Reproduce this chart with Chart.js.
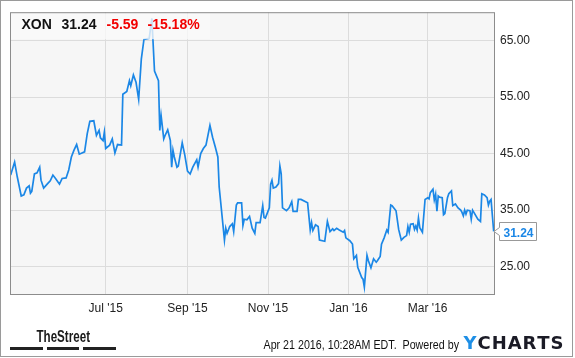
<!DOCTYPE html>
<html><head><meta charset="utf-8">
<script src="https://cdn.jsdelivr.net/npm/chart.js@4/dist/chart.umd.min.js"></script>
<style>html,body{margin:0;padding:0;background:#fff;}canvas{display:block;}</style>
</head><body>
<canvas id="c" width="575" height="358"></canvas>
<script>
// ---- data (days since 21 Apr 2015) ----
const ticker = 'XON';
const lastPriceText = '31.24';
const changeText = '-5.59';
const changePctText = '-15.18%';
const footerStamp = 'Apr 21 2016, 10:28AM EDT.  Powered by';

const days = [-1,2,4,7,9,11,13,14,15,17,19,21,22,24,27,29,31,33,36,38,41,43,45,47,49,51,55,57,59,62,64,66,67,69,70,71,74,76,78,80,83,84,87,89,90,92,94,96,98,100,104,106,108,111,112,113,115,116,118,120,121,122,123,125,126,129,131,133,135,137,140,141,143,145,147,150,152,154,156,157,161,162,163,165,167,168,170,171,174,175,176,178,180,182,184,185,188,190,191,192,195,196,197,198,200,202,203,204,205,208,210,212,213,216,217,219,224,226,227,228,230,232,233,237,239,241,243,244,246,248,251,252,253,256,258,259,261,262,265,266,267,269,270,272,274,276,277,279,280,282,284,285,287,288,291,293,295,297,299,300,301,302,304,305,306,307,308,309,311,313,315,316,317,319,320,321,322,323,324,326,327,328,330,331,333,334,336,338,340,341,342,343,344,345,347,348,349,350,353,355,356,358,360,361,362,363,365];
const prices = [41.2,43.5,40.9,37.5,37.7,38.9,39.3,38.0,38.3,41.4,41.6,42.6,40.3,38.9,39.7,40.2,41.2,40.6,39.6,40.6,40.7,42.1,44.4,45.6,46.6,44.9,45.3,48.5,50.7,50.8,48.2,49.1,47.8,47.3,48.8,45.9,46.5,47.6,45.1,46.6,46.5,55.5,56.0,57.9,57.0,58.9,57.6,54.6,61.7,65.2,65.4,68.9,59.6,57.9,49.1,51.7,47.6,48.2,49.2,47.3,42.6,45.6,44.4,42.6,42.8,46.9,44.7,41.9,41.4,42.6,43.9,42.6,45.0,45.9,46.5,50.0,47.9,46.2,44.4,39.1,29.7,31.8,30.9,32.1,32.6,31.2,35.9,36.3,36.3,32.3,33.4,33.3,33.9,31.8,30.9,32.8,32.8,35.8,33.7,33.6,35.4,39.6,40.3,38.9,39.1,39.7,42.8,41.4,35.4,34.9,35.4,36.5,34.8,34.8,36.9,36.9,36.3,31.5,32.8,31.4,32.4,32.1,29.7,29.5,33.0,31.2,31.7,31.4,31.8,31.5,31.1,31.4,30.1,29.6,29.0,26.4,27.0,24.9,23.1,22.8,21.4,27.0,26.1,24.8,26.4,25.8,26.1,26.8,29.0,30.1,31.5,31.1,35.9,35.8,34.9,31.6,29.7,30.2,30.5,32.1,31.1,32.5,32.6,31.6,32.2,31.5,33.6,31.9,31.1,36.9,37.2,37.0,38.1,38.7,36.8,37.8,34.8,37.5,37.3,37.2,34.2,34.4,37.2,37.9,38.4,35.8,36.1,35.4,35.0,34.6,34.0,35.0,34.3,35.0,34.9,33.4,35.0,34.6,33.4,33.0,37.9,37.7,37.2,35.9,36.6,36.9,31.24];

const xTickDays = [71, 133, 194, 255, 315];
const xTickLabels = ["Jul '15", "Sep '15", "Nov '15", "Jan '16", "Mar '16"];
const yTickValues = [25, 35, 45, 55, 65];

// ---- drawing ----
const FONT = '"Liberation Sans", Arial, Helvetica, sans-serif';
const LINE_BLUE = '#1b87e6';
const points = days.map((d, i) => ({ x: d, y: prices[i] }));

function fitText(ctx, text, x, y, width) {
  const w = ctx.measureText(text).width;
  ctx.save();
  ctx.translate(x, y);
  ctx.scale(width / w, 1);
  ctx.fillText(text, 0, 0);
  ctx.restore();
}

const decor = {
  id: 'decor',
  beforeDraw(chart) {
    const { ctx, chartArea: a } = chart;
    ctx.save();
    ctx.fillStyle = '#fff';
    ctx.fillRect(0, 0, chart.width, chart.height);
    ctx.fillStyle = '#f6f6f6';
    ctx.fillRect(a.left, a.top, a.right - a.left, a.bottom - a.top);
    ctx.restore();
  },
  afterDatasetsDraw(chart) {
    const { ctx, chartArea: a } = chart;
    ctx.save();
    // header box
    ctx.fillStyle = 'rgba(250,250,250,0.78)';
    ctx.fillRect(a.left + 1, a.top + 1, 199, 26);
    ctx.textBaseline = 'alphabetic';
    ctx.textAlign = 'left';
    ctx.font = 'bold 14px ' + FONT;
    ctx.fillStyle = '#111';
    ctx.fillText(ticker, 21.5, 28.5);
    ctx.fillText(lastPriceText, 61.5, 28.5);
    ctx.fillStyle = '#f20000';
    ctx.fillText(changeText, 106.5, 28.5);
    ctx.fillText(changePctText, 147.5, 28.5);

    // plot frame
    ctx.strokeStyle = '#8c8c8c';
    ctx.lineWidth = 1;
    ctx.strokeRect(a.left + 0.5, a.top + 0.5, a.right - a.left - 1, a.bottom - a.top - 1);

    // last price tag
    const yv = Math.round(chart.scales.y.getPixelForValue(prices[prices.length - 1]));
    const x0 = a.right + 4.5, w = 37;
    const top = yv - 8.5, bot = yv + 9.5;
    ctx.beginPath();
    ctx.moveTo(a.right - 1, yv + 0.5);
    ctx.lineTo(x0, yv - 3.5);
    ctx.lineTo(x0, top);
    ctx.lineTo(x0 + w, top);
    ctx.lineTo(x0 + w, bot);
    ctx.lineTo(x0, bot);
    ctx.lineTo(x0, yv + 4.5);
    ctx.closePath();
    ctx.fillStyle = '#fff';
    ctx.fill();
    ctx.strokeStyle = '#999';
    ctx.stroke();
    ctx.font = 'bold 12px ' + FONT;
    ctx.fillStyle = LINE_BLUE;
    ctx.textAlign = 'center';
    ctx.fillText(lastPriceText, x0 + w / 2 + 0.5, yv + 5.5);
    ctx.restore();
  },
  afterDraw(chart) {
    const { ctx } = chart;
    ctx.save();
    ctx.textBaseline = 'alphabetic';
    ctx.textAlign = 'left';
    // footer stamp
    ctx.font = '12px ' + FONT;
    ctx.fillStyle = '#111';
    fitText(ctx, footerStamp, 263.5, 348.5, 195.5);
    // YCHARTS logo
    ctx.font = 'bold 18px "DejaVu Sans", ' + FONT;
    const word = 'YCHARTS';
    let natural = 0;
    for (const ch of word) natural += ctx.measureText(ch).width;
    const gap = (100 - natural) / (word.length - 1);
    let x = 463.5;
    for (let i = 0; i < word.length; i++) {
      ctx.fillStyle = i === 0 ? '#1e8fe6' : '#1b1b26';
      ctx.fillText(word[i], x, 348.5);
      x += ctx.measureText(word[i]).width + gap;
    }
    // TheStreet logo
    ctx.font = 'bold 16px "Liberation Sans Narrow", "Liberation Sans", Arial, sans-serif';
    ctx.fillStyle = '#1a1a1a';
    fitText(ctx, 'TheStreet', 36.5, 341.5, 53.5);
    ctx.fillStyle = '#222';
    ctx.fillRect(10, 347, 33, 3);
    ctx.fillRect(47, 347, 32, 3);
    ctx.fillRect(83, 347, 33, 3);
    // outer border
    ctx.strokeStyle = '#9a9a9a';
    ctx.lineWidth = 1;
    ctx.strokeRect(0.5, 0.5, 572, 356);
    ctx.restore();
  }
};

new Chart(document.getElementById('c'), {
  type: 'line',
  data: {
    datasets: [{
      data: points,
      borderColor: LINE_BLUE,
      borderWidth: 1.7,
      pointRadius: 0,
      fill: false,
      tension: 0
    }]
  },
  options: {
    responsive: false,
    animation: false,
    devicePixelRatio: 1,
    layout: { padding: { left: 10, top: 10, right: 0, bottom: 0 } },
    plugins: { legend: { display: false }, tooltip: { enabled: false } },
    scales: {
      x: {
        type: 'linear', min: -1.5, max: 366,
        afterBuildTicks(s) { s.ticks = xTickDays.map(v => ({ value: v })); },
        afterFit(s) { s.height = 63; },
        ticks: {
          callback: (v) => { const i = xTickDays.indexOf(v); return i >= 0 ? xTickLabels[i] : ''; },
          maxRotation: 0, autoSkip: false, padding: 6, color: '#222',
          font: { family: FONT, size: 12 }
        },
        grid: { color: '#dcdcdc', drawTicks: false },
        border: { display: false }
      },
      y: {
        position: 'right', min: 20, max: 70,
        afterBuildTicks(s) { s.ticks = yTickValues.map(v => ({ value: v })); },
        afterFit(s) { s.width = 80; },
        ticks: {
          callback: (v) => Number(v).toFixed(2),
          padding: 5, color: '#222',
          font: { family: FONT, size: 12 }
        },
        grid: { color: '#dcdcdc', drawTicks: false },
        border: { display: false }
      }
    }
  },
  plugins: [decor]
});
</script>
</body></html>
